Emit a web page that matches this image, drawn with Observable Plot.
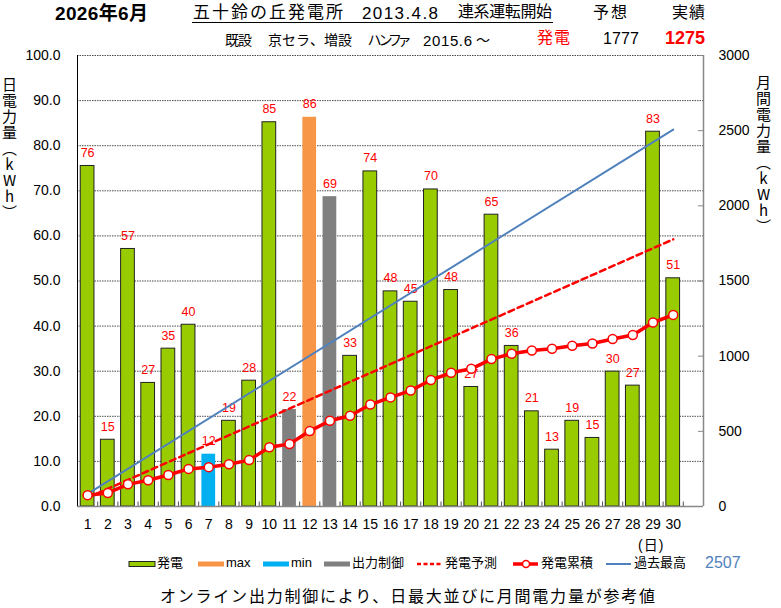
<!DOCTYPE html>
<html><head><meta charset="utf-8">
<script src="https://cdn.jsdelivr.net/npm/d3@7"></script>
<script src="https://cdn.jsdelivr.net/npm/@observablehq/plot@0.6"></script>
<style>
body{margin:0;background:#fff;}
#wrap{position:relative;width:781px;height:608px;font-family:"Liberation Sans","Noto Sans CJK JP",sans-serif;color:#000;}
#wrap svg{position:absolute;left:0;top:0;}
.t{position:absolute;white-space:nowrap;line-height:1;}
.vt{position:absolute;writing-mode:vertical-rl;text-orientation:upright;font-size:15px;line-height:1;letter-spacing:1px;font-family:"Noto Sans CJK JP",sans-serif;}
</style></head><body><div id="wrap"></div>
<script>
// ---- data ----
const days = [1,2,3,4,5,6,7,8,9,10,11,12,13,14,15,16,17,18,19,20,21,22,23,24,25,26,27,28,29,30];
const daily = [75.5,14.8,57.1,27.4,35.0,40.3,11.6,19.0,27.9,85.2,21.5,86.3,68.7,33.4,74.3,47.7,45.4,70.3,48.0,26.5,64.7,35.6,21.1,12.6,19.0,15.2,29.9,26.8,83.1,50.6];
const cumulative = [75.5,90.3,147.4,174.8,209.8,250.1,261.7,280.7,308.6,393.8,415.3,501.6,570.3,603.7,678.0,725.7,771.1,841.4,889.4,915.9,980.6,1016.2,1037.3,1049.9,1068.9,1084.1,1114.0,1140.8,1223.9,1274.5];
const maxDay = 12, minDay = 7;
const curtailedDays = [11, 13];
const forecastDays = [1, 30], forecastValues = [59, 1777];
const recordDays = [1, 30], recordValues = [84, 2507];
const leftTicks = [0,10,20,30,40,50,60,70,80,90,100];
const rightTicks = [0,500,1000,1500,2000,2500,3000];
const RATIO = 30; // right axis (3000) / left axis (100)

const colors = {"発電":"#99cc00", "max":"#f79646", "min":"#00b0f0", "出力制御":"#808080"};
const kindOf = d => d === maxDay ? "max" : d === minDay ? "min" : curtailedDays.includes(d) ? "出力制御" : "発電";
const bars = days.map((d,i) => ({day:d, value:daily[i], kind:kindOf(d)}));
const cum = days.map((d,i) => ({day:d, v:cumulative[i]/RATIO}));
const forecast = forecastDays.map((d,i) => ({day:d, v:forecastValues[i]/RATIO}));
const record = recordDays.map((d,i) => ({day:d, v:recordValues[i]/RATIO}));
const xBoundaries = d3.range(1.5, 31, 1);

const plot = Plot.plot({
  width:781, height:608,
  marginTop:55, marginBottom:102, marginLeft:77, marginRight:78,
  x:{domain:[0.5,31.5], axis:null, label:null},
  y:{domain:[0,100], axis:null, label:null},
  style:{fontFamily:'"Liberation Sans","Noto Sans CJK JP",sans-serif', fontSize:"14px", color:"#000", background:"transparent", overflow:"visible"},
  marks:[
    Plot.gridY(leftTicks.slice(1), {stroke:"#222", strokeOpacity:0.8, strokeWidth:1, strokeDasharray:"1.5,1"}),
    Plot.rectY(bars, {x1:d=>d.day-0.34, x2:d=>d.day+0.34, y1:0, y2:"value",
      fill:d=>colors[d.kind], stroke:d=>d.kind==="発電"?"#222":"none", strokeWidth:1}),
    Plot.ruleY([0], {stroke:"#888", strokeWidth:1.5}),
    Plot.ruleX([0.5], {stroke:"#000", strokeWidth:1}),
    Plot.ruleX([31.5], {stroke:"#888", strokeWidth:1.5}),
    Plot.ruleX(xBoundaries, {y1:0, y2:1, stroke:"#555"}),
    Plot.ruleY(rightTicks.map(v=>v/RATIO), {x1:31.5, x2:31.25, stroke:"#888"}),
    Plot.axisX(days, {tickSize:0, tickPadding:13, fontSize:14, label:null}),
    Plot.axisY(leftTicks, {anchor:"left", tickSize:0, tickPadding:17, fontSize:14, label:null, tickFormat:d=>d.toFixed(1)}),
    Plot.axisY(rightTicks.map(v=>v/RATIO), {anchor:"right", tickSize:0, tickPadding:15, fontSize:14, label:null, tickFormat:d=>String(Math.round(d*RATIO))}),
    Plot.text(bars, {x:"day", y:"value", text:d=>String(Math.round(d.value)), dy:-13, fill:"#ff0000", fontSize:12.5}),
    Plot.line(record, {x:"day", y:"v", stroke:"#4f81bd", strokeWidth:2}),
    Plot.line(forecast, {x:"day", y:"v", stroke:"#ff0000", strokeWidth:2.5, strokeDasharray:"6,4"}),
    Plot.line(cum, {x:"day", y:"v", stroke:"#ff0000", strokeWidth:3.5}),
    Plot.dot(cum, {x:"day", y:"v", r:4.5, fill:"#fff", stroke:"#ff0000", strokeWidth:1.5})
  ]
});
const wrap = document.getElementById("wrap");
wrap.appendChild(plot);

function txt(s, left, top, css){
  const e = document.createElement("div");
  e.className = "t"; e.textContent = s;
  e.style.left = left+"px"; e.style.top = top+"px";
  Object.assign(e.style, css||{});
  wrap.appendChild(e); return e;
}
// text stretched (letter-spacing) to span [left, right]
function fit(s, left, right, top, css){
  const e = txt(s, left, top, css);
  const n = [...s].length;
  const w = e.getBoundingClientRect().width;
  e.style.letterSpacing = ((right-left) - w)/Math.max(1,n-1) + "px";
  return e;
}
fit("2026年6月", 55, 148, 4, {fontSize:"19px", fontWeight:"bold"});
fit("五十鈴の丘発電所", 193, 343, 4, {fontSize:"17px"});
fit("2013.4.8", 362, 438, 5, {fontSize:"17px"});
fit("連系運転開始", 458, 552, 4, {fontSize:"16px"});
const ul = document.createElement("div");
Object.assign(ul.style,{position:"absolute", left:"192px", width:"361px", top:"22px", height:"0", borderTop:"1.2px solid #000"});
wrap.appendChild(ul);
fit("予想", 593, 627, 5, {fontSize:"16px"});
fit("実績", 672, 705, 5, {fontSize:"16px"});

fit("既設", 225, 252, 33, {fontSize:"14px"});
fit("京セラ、増設", 268, 352, 33, {fontSize:"14px"});
fit("ハンファ", 368, 410, 33, {fontSize:"14px", fontFeatureSettings:'"palt"'});
fit("2015.6", 423, 472, 33, {fontSize:"15px"});
txt("～", 476, 33, {fontSize:"14px"});
fit("発電", 537, 570, 30, {fontSize:"16px", color:"#ff0000"});
fit("1777", 603, 639, 31, {fontSize:"16px"});
fit("1275", 665, 705, 29, {fontSize:"18px", color:"#ff0000", fontWeight:"bold"});

const lv = document.createElement("div"); lv.className="vt"; lv.textContent="日電力量（kWh）";
lv.style.left="2px"; lv.style.top="77px"; wrap.appendChild(lv);
const rv = document.createElement("div"); rv.className="vt"; rv.textContent="月間電力量（kWh）";
rv.style.left="756px"; rv.style.top="75px"; wrap.appendChild(rv);

txt("(日)", 638, 538, {fontSize:"14px", letterSpacing:"1px"});

// legend
const legendItems = [
  {label:"発電", x:128, type:"bar", color:colors["発電"], border:"#222"},
  {label:"max", x:197, type:"bar", color:colors["max"]},
  {label:"min", x:262, type:"bar", color:colors["min"]},
  {label:"出力制御", x:323, type:"bar", color:colors["出力制御"]},
  {label:"発電予測", x:416, type:"dash", color:"#ff0000"},
  {label:"発電累積", x:512, type:"dot", color:"#ff0000"},
  {label:"過去最高", x:605, type:"line", color:"#4f81bd"}
];
const NS="http://www.w3.org/2000/svg";
legendItems.forEach(it=>{
  const w = 26;
  const s = document.createElementNS(NS,"svg");
  s.setAttribute("width", w+2); s.setAttribute("height", 12);
  s.style.position="absolute"; s.style.left=it.x+"px"; s.style.top="558px";
  let html="";
  if(it.type==="bar") html=`<rect x="1" y="3.5" width="${w}" height="5" fill="${it.color}" stroke="${it.border||"none"}" stroke-width="1"/>`;
  if(it.type==="dash") html=`<line x1="1" y1="6" x2="${w}" y2="6" stroke="${it.color}" stroke-width="2.5" stroke-dasharray="4,2.5"/>`;
  if(it.type==="dot") html=`<line x1="1" y1="6" x2="${w}" y2="6" stroke="${it.color}" stroke-width="3.5"/><circle cx="${w/2+1}" cy="6" r="3.5" fill="#fff" stroke="${it.color}" stroke-width="1.5"/>`;
  if(it.type==="line") html=`<line x1="1" y1="6" x2="${w}" y2="6" stroke="${it.color}" stroke-width="2"/>`;
  s.innerHTML=html; wrap.appendChild(s);
  txt(it.label, it.x+w+3, 556, {fontSize:"13px"});
});
txt("2507", 705, 555, {fontSize:"16px", color:"#4f81bd"});

fit("オンライン出力制御により、日最大並びに月間電力量が参考値", 160, 655, 589, {fontSize:"16px"});
</script></body></html>
